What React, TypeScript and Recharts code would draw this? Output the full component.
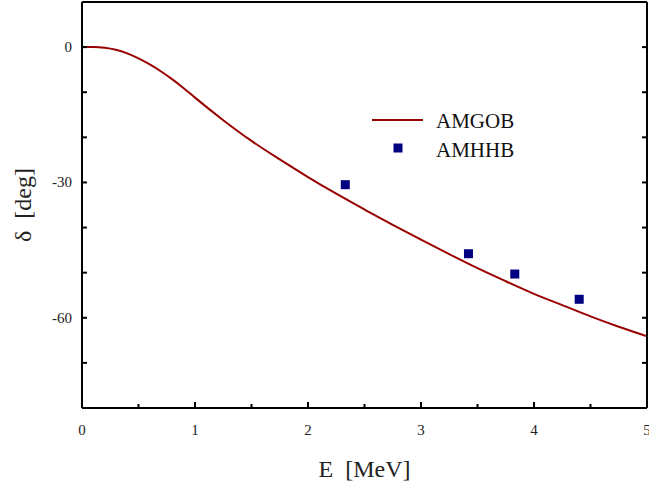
import { ComposedChart, Line, Scatter, XAxis, YAxis, Legend } from 'recharts';

// AMGOB phase shift curve (E in MeV, delta in deg)
const curveE = [
  0, 0.1, 0.2, 0.3, 0.4, 0.5, 0.6, 0.7, 0.8, 0.9, 1.0, 1.25, 1.5, 1.75, 2.0,
  2.25, 2.5, 2.75, 3.0, 3.25, 3.5, 3.75, 4.0, 4.25, 4.5, 4.75, 5.0,
];
const curveDelta = [
  0, 0, -0.15, -0.6, -1.4, -2.5, -3.85, -5.4, -7.15, -9.1, -11.2, -16.2, -20.8, -24.9, -28.8,
  -32.5, -36.0, -39.4, -42.7, -45.9, -49.0, -51.9, -54.7, -57.2, -59.7, -62.0, -64.1,
];

// AMHHB points
const pointE = [2.33, 3.42, 3.83, 4.4];
const pointDelta = [-30.5, -45.8, -50.3, -55.9];

const xTicks = [0, 0.5, 1, 1.5, 2, 2.5, 3, 3.5, 4, 4.5, 5];
const xLabels = [0, 1, 2, 3, 4, 5];
const yTicks = [0, -10, -20, -30, -40, -50, -60, -70];
const yLabels = [0, -30, -60];

const FONT = '"Liberation Serif", "Times New Roman", serif';
const CURVE_COLOR = '#990000';
const POINT_COLOR = '#000080';

const curve = curveE.map((E, i) => ({ E, d: curveDelta[i] }));
const points = pointE.map((E, i) => ({ E, d: pointDelta[i] }));

function BottomTick({ x, y, payload }: any) {
  const v = payload.value;
  const major = xLabels.includes(v);
  return (
    <g>
      <line x1={x} y1={y} x2={x} y2={y - (major ? 6 : 4)} stroke="#000" strokeWidth={2} />
      {major && (
        <text x={x} y={y + 27} textAnchor="middle" fontFamily={FONT} fontSize={15} fill="#222">
          {v}
        </text>
      )}
    </g>
  );
}

function TopTick({ x, y, payload }: any) {
  const major = xLabels.includes(payload.value);
  return <line x1={x} y1={y} x2={x} y2={y + (major ? 6 : 4)} stroke="#000" strokeWidth={2} />;
}

function LeftTick({ x, y, payload }: any) {
  const v = payload.value;
  return (
    <g>
      <line x1={x} y1={y} x2={x + 5} y2={y} stroke="#000" strokeWidth={2} />
      {yLabels.includes(v) && (
        <text x={x - 10} y={y + 5} textAnchor="end" fontFamily={FONT} fontSize={15} fill="#222">
          {v}
        </text>
      )}
    </g>
  );
}

function RightTick({ x, y }: any) {
  return <line x1={x} y1={y} x2={x - 5} y2={y} stroke="#000" strokeWidth={2} />;
}

function Square({ cx, cy }: any) {
  return <rect x={cx - 4.5} y={cy - 4.5} width={9} height={9} fill={POINT_COLOR} />;
}

function renderLegend() {
  return (
    <svg width={200} height={70} style={{ display: 'block' }}>
      <line x1={12} y1={20} x2={63} y2={20} stroke={CURVE_COLOR} strokeWidth={2} />
      <text x={76} y={28} fontFamily={FONT} fontSize={21} fill="#111">AMGOB</text>
      <rect x={33.5} y={43.5} width={9} height={9} fill={POINT_COLOR} />
      <text x={76} y={57} fontFamily={FONT} fontSize={21} fill="#111">AMHHB</text>
    </svg>
  );
}

export default function App() {
  const axisLine = { stroke: '#000', strokeWidth: 2 };
  return (
    <div style={{ position: 'absolute', left: 0, top: 0, background: '#fff' }}>
      <ComposedChart width={649} height={486} margin={{ top: 0, right: 0, bottom: 0, left: 0 }}>
        <XAxis
          dataKey="E"
          type="number"
          domain={[0, 5]}
          ticks={xTicks}
          height={78}
          tickSize={0}
          tickMargin={0}
          tickLine={false}
          axisLine={axisLine}
          tick={<BottomTick />}
          interval={0}
          allowDataOverflow
          label={{
            value: 'E\u00A0\u00A0[MeV]',
            position: 'insideBottom',
            offset: 9,
            fontFamily: FONT,
            fontSize: 24,
            fill: '#222',
          }}
        />
        <XAxis
          xAxisId="top"
          orientation="top"
          type="number"
          domain={[0, 5]}
          ticks={xTicks}
          height={2}
          tickSize={0}
          tickMargin={0}
          tickLine={false}
          axisLine={axisLine}
          tick={<TopTick />}
          interval={0}
          allowDataOverflow
        />
        <YAxis
          type="number"
          domain={[-80, 10]}
          ticks={yTicks}
          width={82}
          tickSize={0}
          tickMargin={0}
          tickLine={false}
          axisLine={axisLine}
          tick={<LeftTick />}
          interval={0}
          allowDataOverflow
          label={{
            value: '\u03B4\u00A0\u00A0[deg]',
            position: 'center',
            angle: -90,
            dx: -19,
            fontFamily: FONT,
            fontSize: 24,
            fill: '#222',
          }}
        />
        <YAxis
          yAxisId="right"
          orientation="right"
          type="number"
          domain={[-80, 10]}
          ticks={yTicks}
          width={2}
          tickSize={0}
          tickMargin={0}
          tickLine={false}
          axisLine={axisLine}
          tick={<RightTick />}
          interval={0}
          allowDataOverflow
        />
        <Legend
          content={renderLegend}
          layout="horizontal"
          verticalAlign="middle"
          align="center"
          wrapperStyle={{ left: 360, top: 100, width: 200, height: 70 }}
        />
        <Line
          data={curve}
          dataKey="d"
          type="monotone"
          stroke={CURVE_COLOR}
          strokeWidth={2}
          dot={false}
          isAnimationActive={false}
        />
        <Scatter data={points} dataKey="d" shape={<Square />} isAnimationActive={false} />
      </ComposedChart>
    </div>
  );
}
